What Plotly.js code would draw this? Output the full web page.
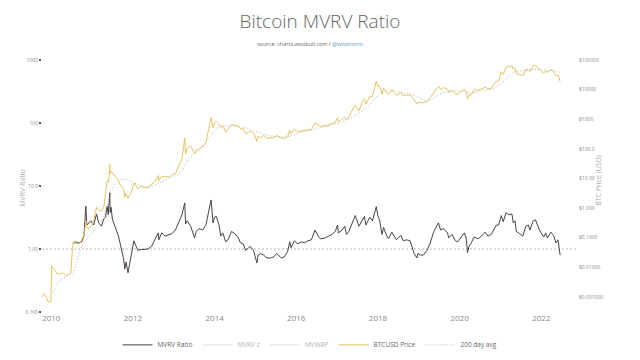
<!DOCTYPE html>
<html>
<head>
<meta charset="utf-8">
<script src="https://cdn.plot.ly/plotly-3.0.1.min.js"></script>
<style>html,body{margin:0;padding:0;background:#fff;}#chart{width:640px;height:360px;}</style>
</head>
<body>
<div id="chart"></div>
<script>
// ---- Data ----
const mvrvDates = ['2010-07-18','2010-08-01','2010-09-01','2010-10-01','2010-10-20','2010-11-06','2010-11-15','2010-12-01','2010-12-20','2011-01-15','2011-02-10','2011-03-01','2011-03-25','2011-04-15','2011-05-01','2011-05-15','2011-05-25','2011-06-01','2011-06-08','2011-06-12','2011-06-20','2011-07-01','2011-07-20','2011-08-10','2011-08-25','2011-09-10','2011-09-25','2011-10-10','2011-10-20','2011-11-01','2011-11-18','2011-11-25','2011-12-10','2011-12-25','2012-01-10','2012-01-25','2012-02-15','2012-03-15','2012-04-15','2012-05-15','2012-06-15','2012-07-15','2012-08-15','2012-08-20','2012-09-15','2012-10-15','2012-11-15','2012-12-15','2013-01-15','2013-02-15','2013-03-15','2013-04-09','2013-04-16','2013-05-01','2013-06-01','2013-07-05','2013-07-20','2013-08-15','2013-09-15','2013-10-15','2013-11-18','2013-11-30','2013-12-18','2013-12-31','2014-01-15','2014-02-10','2014-02-25','2014-03-15','2014-04-10','2014-05-01','2014-06-01','2014-07-01','2014-08-01','2014-08-20','2014-09-15','2014-10-05','2014-11-15','2014-12-15','2015-01-14','2015-01-25','2015-02-15','2015-03-15','2015-04-15','2015-05-15','2015-06-15','2015-07-10','2015-08-20','2015-09-15','2015-10-15','2015-11-04','2015-11-15','2015-12-15','2016-01-15','2016-02-15','2016-03-15','2016-04-15','2016-05-15','2016-06-17','2016-07-15','2016-08-05','2016-09-15','2016-10-15','2016-11-15','2016-12-15','2017-01-04','2017-01-12','2017-02-15','2017-03-10','2017-03-25','2017-04-15','2017-05-25','2017-06-12','2017-07-15','2017-08-15','2017-09-02','2017-09-15','2017-10-20','2017-11-12','2017-12-17','2017-12-30','2018-01-15','2018-02-06','2018-02-20','2018-03-15','2018-04-05','2018-05-05','2018-06-15','2018-07-25','2018-08-15','2018-09-15','2018-10-15','2018-11-20','2018-12-15','2018-12-25','2019-01-15','2019-02-10','2019-03-15','2019-04-10','2019-05-15','2019-06-26','2019-07-15','2019-08-10','2019-09-15','2019-09-26','2019-10-26','2019-11-25','2019-12-15','2020-01-15','2020-02-13','2020-03-01','2020-03-12','2020-03-25','2020-04-15','2020-05-08','2020-06-15','2020-07-28','2020-08-17','2020-09-10','2020-10-10','2020-11-25','2020-12-15','2021-01-08','2021-01-25','2021-02-21','2021-03-13','2021-04-13','2021-04-25','2021-05-10','2021-05-23','2021-06-22','2021-07-20','2021-08-15','2021-09-07','2021-09-21','2021-10-20','2021-11-10','2021-11-28','2021-12-15','2022-01-22','2022-02-10','2022-02-24','2022-03-28','2022-04-20','2022-05-12','2022-05-30','2022-06-13','2022-06-18'];
const mvrvValues = [1.2,1.3,1.25,1.3,1.6,4.8,2.4,2.6,2.8,2.4,3.6,2.6,2.3,3.0,3.2,4.8,3.5,5.2,7.8,3.8,4.6,3.0,2.4,1.9,1.6,1.2,0.9,0.7,0.48,0.62,0.42,0.5,0.7,0.9,1.35,1.15,0.95,0.98,1.0,1.0,1.1,1.4,1.8,1.4,1.8,1.6,1.7,1.75,2.0,2.6,3.5,5.4,2.5,2.8,2.3,1.5,1.9,2.1,2.0,2.4,4.5,6.0,2.6,3.2,3.3,2.4,1.6,1.8,1.3,1.4,1.9,1.75,1.5,1.25,1.2,0.95,1.1,0.95,0.6,0.8,0.85,0.8,0.72,0.72,0.75,0.85,0.72,0.75,0.9,1.3,1.05,1.35,1.2,1.3,1.25,1.35,1.4,2.0,1.6,1.45,1.5,1.6,1.7,1.9,2.4,1.8,2.0,2.3,1.7,1.9,3.0,3.4,2.3,3.0,3.3,2.4,3.2,2.8,4.7,3.4,2.9,1.7,2.2,1.7,1.45,1.85,1.4,1.65,1.35,1.4,1.35,0.85,0.72,0.85,0.8,0.8,0.95,1.2,1.9,2.6,2.0,2.1,1.8,1.5,1.7,1.35,1.3,1.55,1.8,1.45,0.88,1.1,1.25,1.55,1.45,1.7,1.85,1.6,1.7,2.4,2.4,3.4,2.7,3.8,3.5,3.6,2.6,2.8,1.9,1.75,1.6,2.3,2.4,2.0,2.8,2.9,2.3,2.0,1.55,1.8,1.5,1.85,1.65,1.25,1.4,0.95,0.8];

const priceDates = ['2009-10-12','2009-10-25','2009-11-10','2009-12-01','2009-12-28','2010-01-05','2010-01-25','2010-02-20','2010-03-20','2010-04-15','2010-05-10','2010-06-05','2010-06-25','2010-07-12','2010-07-20','2010-08-10','2010-09-10','2010-10-10','2010-10-25','2010-11-06','2010-11-15','2010-12-05','2010-12-25','2011-01-15','2011-02-10','2011-03-01','2011-03-25','2011-04-15','2011-05-01','2011-05-15','2011-05-25','2011-06-02','2011-06-08','2011-06-12','2011-06-20','2011-07-01','2011-07-20','2011-08-10','2011-08-25','2011-09-10','2011-09-25','2011-10-10','2011-10-20','2011-11-01','2011-11-18','2011-11-25','2011-12-10','2011-12-25','2012-01-10','2012-01-25','2012-02-15','2012-03-15','2012-04-15','2012-05-15','2012-06-15','2012-07-15','2012-08-15','2012-08-20','2012-09-15','2012-10-15','2012-11-15','2012-12-15','2013-01-15','2013-02-15','2013-03-15','2013-04-09','2013-04-16','2013-05-01','2013-06-01','2013-07-05','2013-07-20','2013-08-15','2013-09-15','2013-10-15','2013-11-18','2013-11-30','2013-12-18','2013-12-31','2014-01-15','2014-02-10','2014-02-25','2014-03-15','2014-04-10','2014-05-01','2014-06-01','2014-07-01','2014-08-01','2014-08-20','2014-09-15','2014-10-05','2014-11-15','2014-12-15','2015-01-14','2015-01-25','2015-02-15','2015-03-15','2015-04-15','2015-05-15','2015-06-15','2015-07-10','2015-08-20','2015-09-15','2015-10-15','2015-11-04','2015-11-15','2015-12-15','2016-01-15','2016-02-15','2016-03-15','2016-04-15','2016-05-15','2016-06-17','2016-07-15','2016-08-05','2016-09-15','2016-10-15','2016-11-15','2016-12-15','2017-01-04','2017-01-12','2017-02-15','2017-03-10','2017-03-25','2017-04-15','2017-05-25','2017-06-12','2017-07-15','2017-08-15','2017-09-02','2017-09-15','2017-10-20','2017-11-12','2017-12-17','2017-12-30','2018-01-15','2018-02-06','2018-02-20','2018-03-15','2018-04-05','2018-05-05','2018-06-15','2018-07-25','2018-08-15','2018-09-15','2018-10-15','2018-11-20','2018-12-15','2018-12-25','2019-01-15','2019-02-10','2019-03-15','2019-04-10','2019-05-15','2019-06-26','2019-07-15','2019-08-10','2019-09-15','2019-09-26','2019-10-26','2019-11-25','2019-12-15','2020-01-15','2020-02-13','2020-03-01','2020-03-12','2020-03-25','2020-04-15','2020-05-08','2020-06-15','2020-07-28','2020-08-17','2020-09-10','2020-10-10','2020-11-25','2020-12-15','2021-01-08','2021-01-25','2021-02-21','2021-03-13','2021-04-13','2021-04-25','2021-05-10','2021-05-23','2021-06-22','2021-07-20','2021-08-15','2021-09-07','2021-09-21','2021-10-20','2021-11-10','2021-11-28','2021-12-15','2022-01-22','2022-02-10','2022-02-24','2022-03-28','2022-04-20','2022-05-12','2022-05-30','2022-06-13','2022-06-18'];
const priceValues = [0.0010,0.0013,0.0011,0.0007,0.0007,0.011,0.009,0.0062,0.0058,0.0065,0.0052,0.006,0.0065,0.06,0.075,0.065,0.062,0.1,0.15,0.36,0.23,0.2,0.25,0.39,1.05,0.9,0.78,1.05,3.3,8.0,7.2,10.5,29.6,14,17.5,15.4,13.5,9.9,8.5,5.8,5.4,4.2,2.3,3.2,2.1,2.5,3.0,4.2,7.0,5.8,4.4,5.4,4.9,5.0,6.4,7.7,12.5,8.5,11.7,11.8,11.0,13.4,14.3,27,47,230,68,105,128,68,90,98,126,155,700,1130,520,750,850,680,530,630,360,450,650,640,590,480,470,320,400,345,178,270,235,285,220,237,235,285,230,230,255,420,330,455,375,405,415,430,455,760,665,575,610,640,715,780,1130,790,1010,1190,935,1180,2400,2950,1920,4000,4900,3250,6000,5900,19300,12800,13700,6950,11200,8250,6800,9700,6400,8200,6300,6500,6650,4500,3250,3800,3600,3650,3900,5200,8200,12900,10200,11800,10300,8050,9550,7050,7100,8800,10300,8550,4850,6700,6650,9900,9450,11000,12300,10350,11300,19200,19400,40600,32300,57500,61200,63500,49000,56000,34700,32500,29800,47000,46800,40700,65900,64900,57200,48900,35100,43900,38300,47100,41400,29000,31700,22500,19000];

const avgDates = ['2010-01-20','2010-04-01','2010-07-01','2010-10-01','2011-01-01','2011-04-01','2011-06-01','2011-08-01','2011-10-01','2011-12-01','2012-03-01','2012-06-01','2012-09-01','2012-12-01','2013-03-01','2013-06-01','2013-09-01','2013-12-01','2014-02-01','2014-05-01','2014-08-01','2014-11-01','2015-02-01','2015-05-01','2015-08-01','2015-11-01','2016-02-01','2016-05-01','2016-08-01','2016-11-01','2017-02-01','2017-05-01','2017-08-01','2017-11-01','2018-01-01','2018-03-01','2018-05-01','2018-07-01','2018-09-01','2018-11-01','2019-01-01','2019-03-01','2019-05-01','2019-07-01','2019-09-01','2019-11-01','2020-01-01','2020-03-01','2020-05-01','2020-07-01','2020-09-01','2020-11-01','2021-01-01','2021-03-01','2021-05-01','2021-07-01','2021-09-01','2021-11-01','2022-01-01','2022-03-01','2022-05-01','2022-06-18'];
const avgValues = [0.0015,0.004,0.006,0.05,0.15,0.4,2,7,9.5,8.5,5.8,5.2,7.5,10.5,16,55,100,290,500,600,560,480,360,280,255,265,350,420,520,620,780,1100,1750,3500,6500,8800,9700,8300,7500,6800,5500,4300,4800,6700,8300,9000,8800,8300,7800,8800,9700,11000,15500,24000,39000,43000,46000,47500,48000,46000,42000,39000];

const leftTickVals = [0.1, 1, 10, 100, 1000];
const leftTickText = ['0.100', '1.00', '10.0', '100', '1000'];
const rightTickVals = [0.001, 0.01, 0.1, 1, 10, 100, 1000, 10000, 100000];
const rightTickText = ['$0.001000', '$0.01000', '$0.1000', '$1.000', '$10.00', '$100.0', '$1000', '$10000', '$100000'];
const parLevel = [1];

const FONT = 'Open Sans, Lato, sans-serif';

const traces = [
  {x: mvrvDates, y: mvrvValues, name: 'MVRV Ratio', type: 'scatter', mode: 'lines',
   line: {color: '#4b4145', width: 1}, yaxis: 'y'},
  {x: [mvrvDates[0]], y: [null], name: 'MVRV z', type: 'scatter', mode: 'lines',
   line: {color: '#c9c9c9', width: 1}, yaxis: 'y', visible: 'legendonly'},
  {x: [mvrvDates[0]], y: [null], name: 'MVWAP', type: 'scatter', mode: 'lines',
   line: {color: '#c9c9c9', width: 1}, yaxis: 'y', visible: 'legendonly'},
  {x: priceDates, y: priceValues, name: 'BTCUSD Price', type: 'scatter', mode: 'lines',
   line: {color: '#e8c363', width: 1}, yaxis: 'y2'},
  {x: avgDates, y: avgValues, name: '200 day avg', type: 'scatter', mode: 'lines',
   line: {color: '#b4b4b4', width: 1, dash: '1px,2px', shape: 'spline'}, yaxis: 'y2'}
];

const layout = {
  width: 640, height: 360,
  paper_bgcolor: '#ffffff', plot_bgcolor: '#ffffff',
  margin: {l: 42, r: 62, t: 60, b: 48, autoexpand: false},
  font: {family: FONT, color: '#777'},
  showlegend: true,
  title: {text: 'Bitcoin MVRV Ratio', x: 0.5, xanchor: 'center', y: 0.94, yanchor: 'middle',
          font: {family: FONT, size: 19, color: '#666', weight: 300}},
  annotations: [
    {text: 'source: charts.woobull.com / <span style="color:#5a9bd0">@woonomic</span>',
     xref: 'paper', yref: 'paper', x: 0.5, y: 1.063, xanchor: 'center', yanchor: 'middle',
     showarrow: false, font: {family: FONT, size: 5.5, color: '#666'}},
    {text: 'MVRV Ratio', xref: 'paper', yref: 'paper', x: -0.037, y: 0.49,
     xanchor: 'center', yanchor: 'middle', textangle: -90, showarrow: false,
     font: {family: FONT, size: 7, color: '#aaa'}},
    {text: 'BTC Price (USD)', xref: 'paper', yref: 'paper', x: 1.039, y: 0.524,
     xanchor: 'center', yanchor: 'middle', textangle: -90, showarrow: false,
     font: {family: FONT, size: 7, color: '#aaa'}}
  ],
  xaxis: {
    type: 'date', range: ['2009-10-10', '2022-11-25'],
    tick0: '2010-01-01', dtick: 'M24', tickformat: '%Y',
    showgrid: false, zeroline: false, showline: false, ticks: '',
    tickfont: {family: FONT, size: 8, color: '#888'}
  },
  yaxis: {
    type: 'log', range: [-1, 3],
    tickvals: leftTickVals, ticktext: leftTickText,
    showgrid: false, zeroline: false, showline: false,
    ticks: 'outside', ticklen: 2, tickwidth: 2, tickcolor: '#555',
    tickfont: {family: FONT, size: 5, color: '#888'}
  },
  yaxis2: {
    type: 'log', range: [-3.51, 5], overlaying: 'y', side: 'right',
    tickvals: rightTickVals, ticktext: rightTickText,
    showgrid: false, zeroline: false, showline: false, ticks: '',
    tickfont: {family: FONT, size: 5, color: '#888'}
  },
  shapes: parLevel.map(v => ({
    type: 'line', xref: 'paper', x0: 0, x1: 1, yref: 'y', y0: v, y1: v,
    line: {color: '#b8b8b8', width: 1, dash: '2px,2px'}, layer: 'below'
  })),
  legend: {
    orientation: 'h', x: 0.5, xanchor: 'center', yref: 'container', y: 0.042, yanchor: 'middle',
    font: {family: FONT, size: 6.5, color: '#666'}, itemwidth: 30,
    bgcolor: 'rgba(0,0,0,0)'
  },
  hovermode: false
};

Plotly.newPlot('chart', traces, layout, {displayModeBar: false, staticPlot: true});
</script>
</body>
</html>
